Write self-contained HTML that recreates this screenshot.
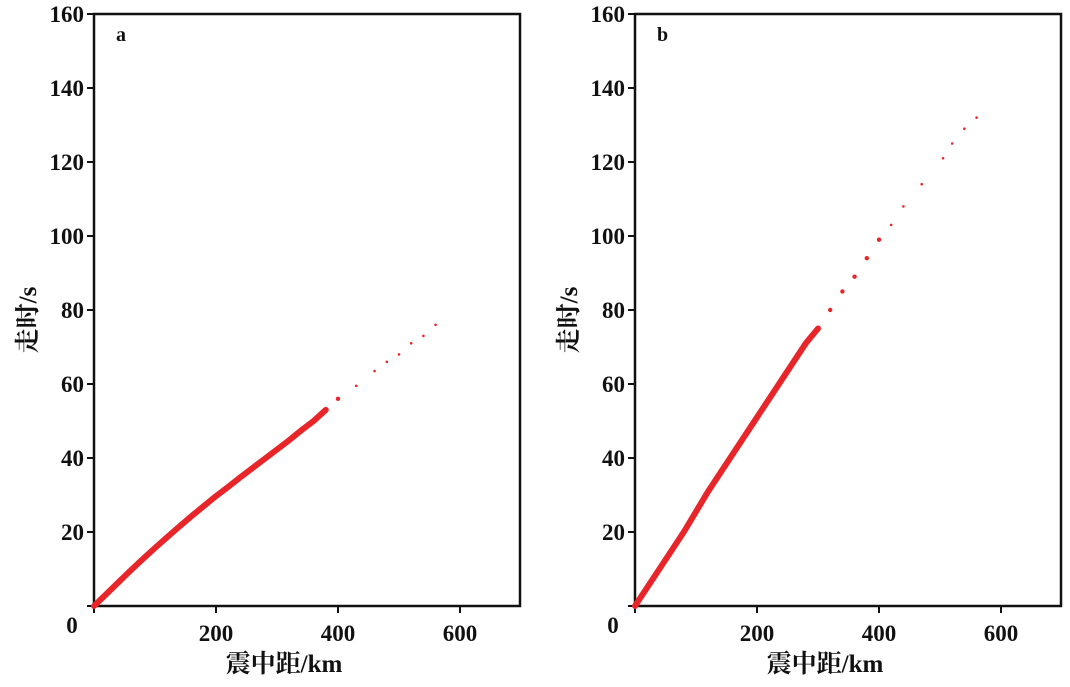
<!DOCTYPE html>
<html><head><meta charset="utf-8"><style>
body{margin:0;background:#fff}
svg text{font-family:"Liberation Serif","Noto Serif CJK SC",serif;font-weight:bold;fill:#111}
</style></head><body>
<svg id="c" width="1070" height="682"></svg>
<script>
const ticksY=[0,20,40,60,80,100,120,140,160];
const ticksX=[200,400,600];
const distA=[0,20,40,60,80,100,120,140,160,180,200,220,240,260,280,300,320,340,360,380,400,430,460,480,500,520,540,560];
const timeA=[0,3.2,6.4,9.6,12.7,15.7,18.6,21.5,24.3,27,29.7,32.2,34.8,37.3,39.8,42.3,44.8,47.5,50,53,56,59.5,63.5,66,68,71,73,76];
const distB=[0,20,40,60,80,100,120,140,160,180,200,220,240,260,280,300,320,340,360,380,400,420,440,470,505,520,540,560];
const timeB=[0,5,10,15,20,25.5,31,36,41,46,51,56,61,66,71,75,80,85,89,94,99,103,108,114,121,125,129,132];
const NS='http://www.w3.org/2000/svg';
const svg=document.getElementById('c');
function mk(t,a,p){const e=document.createElementNS(NS,t);for(const k in a)e.setAttribute(k,a[k]);(p||svg).appendChild(e);return e;}
function panel(x0,label,dist,time,denseMax,bandW,name){
  const g=mk('g',{});
  
  
  const W=426,top=14,bot=606;
  const sx=d=>x0+d*0.61, sy=t=>bot-t*(bot-top)/160;
  // frame
  const fr=mk('rect',{x:x0,y:top,width:W,height:bot-top,fill:'none',stroke:'#111','stroke-width':2.5},g);
  
  
  ticksY.forEach(v=>{
    mk('line',{x1:x0-7,x2:x0,y1:sy(v),y2:sy(v),stroke:'#111','stroke-width':2},g);
    if(v>0){const t=mk('text',{x:x0-10,y:sy(v)+8,'text-anchor':'end','font-size':23},g);t.textContent=v;
    
    }
  });
  mk('line',{x1:x0,x2:x0,y1:bot,y2:bot+7,stroke:'#111','stroke-width':2},g);
  const z=mk('text',{x:x0-22,y:bot+27,'text-anchor':'middle','font-size':23},g);z.textContent='0';
  
  
  ticksX.forEach(v=>{
    mk('line',{x1:sx(v),x2:sx(v),y1:bot,y2:bot+7,stroke:'#111','stroke-width':2},g);
    const t=mk('text',{x:sx(v),y:bot+35,'text-anchor':'middle','font-size':23},g);t.textContent=v;
    
    
  });
  const xt=mk('text',{x:x0+190,y:672,'text-anchor':'middle','font-size':25},g);xt.textContent='震中距/km';
  
  
  const yt=mk('text',{x:0,y:0,'text-anchor':'middle','font-size':25,transform:`translate(${x0-58},320) rotate(-90)`},g);yt.textContent='走时/s';
  
  
  const pl=mk('text',{x:x0+22,y:top+27,'font-size':20},g);pl.textContent=label;
  
  
  // dense band
  let pts=[];
  dist.forEach((d,i)=>{if(d<=denseMax)pts.push(sx(d)+','+sy(time[i]));});
  const band=mk('polyline',{points:pts.join(' '),fill:'none',stroke:'#e8262a','stroke-width':bandW,'stroke-linecap':'round','stroke-linejoin':'round'},g);
  
  
  dist.forEach((d,i)=>{
    if(d<=denseMax)return;
    const c=mk('circle',{cx:sx(d),cy:sy(time[i]),r:d<420?2.2:1.3,fill:'#e8262a'},g);
    
    
  });
}
panel(94,'a',distA,timeA,380,6,'panel-a');
panel(635,'b',distB,timeB,300,6,'panel-b');
</script>
</body></html>
